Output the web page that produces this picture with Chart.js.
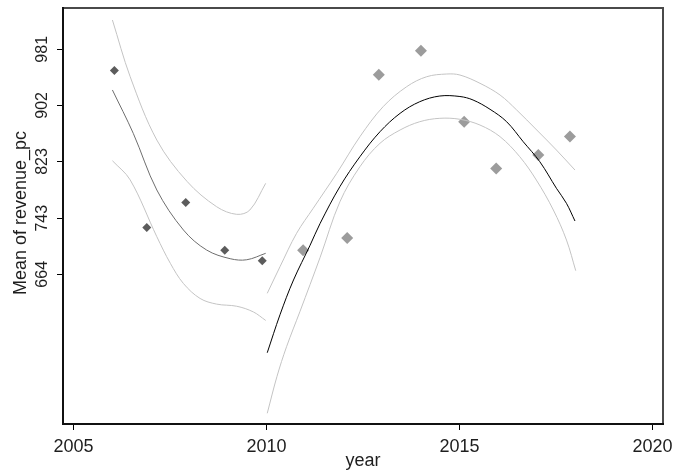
<!DOCTYPE html>
<html>
<head>
<meta charset="utf-8">
<script src="https://cdn.jsdelivr.net/npm/chart.js@4"></script>
<style>
  html, body { margin: 0; padding: 0; background: #fff; }
  canvas { display: block; }
</style>
</head>
<body>
<canvas id="grafica-revenue" width="673" height="470"></canvas>
<script>
// Puntos: media de revenue_pc por año
const yearsEarly = [2006.06, 2006.9, 2007.91, 2008.92, 2009.89];
const revenueEarly = [951, 730, 765, 698, 683];
const yearsLate = [2010.95, 2012.09, 2012.91, 2014.0, 2015.12, 2015.95, 2017.04, 2017.86];
const revenueLate = [698, 715, 945, 979, 879, 813, 832, 858];

// Ajuste cuadrático 2006-2010
const fitEarlyX = [2006.01, 2006.55, 2007.16, 2007.85, 2008.45, 2009.06, 2009.49, 2009.98];
const fitEarly = [923.7, 862.6, 782.8, 726.4, 698.2, 686, 684.5, 693.6];
const ciEarlyHiX = [2006.01, 2006.47, 2007.16, 2007.94, 2008.71, 2009.23, 2009.57, 2009.98];
const ciEarlyHi = [1022.3, 942.4, 853.2, 795, 759.2, 748.5, 754.6, 792.2];
const ciEarlyLoX = [2006.01, 2006.47, 2007.16, 2007.51, 2007.85, 2008.28, 2008.71, 2009.23, 2009.66, 2009.98];
const ciEarlyLo = [824, 797, 717, 679.5, 651, 630, 622, 619, 611, 599];

// Ajuste cuadrático 2010-2018
const fitLateX = [2010.02, 2010.35, 2010.7, 2011.13, 2011.39, 2011.9, 2012.42, 2012.94, 2013.46, 2013.97,
  2014.49, 2015.01, 2015.35, 2015.79, 2016.22, 2016.65, 2017.08, 2017.51, 2017.77, 2017.99];
const fitLate = [553.5, 607, 656, 705, 735.8, 787.4, 829.7, 864.9, 890.8, 907.2,
  915.2, 914.5, 909.6, 896.5, 879, 850.8, 822.6, 785.2, 764, 739.1];
const ciLateHiX = [2010.02, 2010.35, 2010.78, 2011.21, 2011.82, 2012.42, 2013.02, 2013.63, 2014.15,
  2014.67, 2015.01, 2015.53, 2016.05, 2016.48, 2017.0, 2017.51, 2017.99];
const ciLateHi = [637.2, 674.7, 721.8, 757, 806.3, 857.9, 900.1, 928.3, 942.4,
  946.2, 944.8, 933.1, 916.6, 895.5, 867.3, 839.1, 810.9];
const ciLateLoX = [2010.02, 2010.27, 2010.52, 2010.87, 2011.39, 2011.9, 2012.42, 2012.94, 2013.46, 2013.97,
  2014.49, 2015.01, 2015.53, 2016.05, 2016.56, 2016.99, 2017.43, 2017.77, 2018.01];
const ciLateLo = [468.2, 519.7, 562, 612, 688, 766, 815.6, 848.6, 867.3, 879,
  883.8, 882.4, 874.3, 857.9, 829.7, 796.8, 754.6, 712.3, 669.1];

// Ejes
const xTicks = [2005, 2010, 2015, 2020];
const yTicks = [664, 743, 823, 902, 981];
const xTitle = 'year';
const yTitle = 'Mean of revenue_pc';

const FONT = '"Liberation Sans", Arial, sans-serif';
const pts = (xs, ys) => xs.map((x, i) => ({ x, y: ys[i] }));

function curva(xs, ys, color) {
  return {
    data: pts(xs, ys),
    showLine: true,
    borderColor: color,
    borderWidth: 1,
    pointRadius: 0,
    tension: 0.35,
    order: 1
  };
}

// 🖼️ Marco y textos de los ejes
const marcoPlugin = {
  id: 'marco',
  afterDraw(chart) {
    const { ctx, chartArea: a, scales } = chart;
    ctx.save();
    ctx.lineWidth = 2;
    ctx.strokeStyle = '#4a4a4a';
    ctx.beginPath();
    ctx.moveTo(a.left, a.top);
    ctx.lineTo(a.right, a.top);
    ctx.lineTo(a.right, a.bottom);
    ctx.stroke();
    ctx.strokeStyle = '#111';
    ctx.beginPath();
    ctx.moveTo(a.left, a.top - 1);
    ctx.lineTo(a.left, a.bottom);
    ctx.lineTo(a.right + 1, a.bottom);
    ctx.stroke();

    ctx.fillStyle = '#1e1e1e';
    ctx.textBaseline = 'alphabetic';
    ctx.textAlign = 'center';
    ctx.font = '18px ' + FONT;
    xTicks.forEach(v => {
      ctx.fillText(String(v), scales.x.getPixelForValue(v), 451.5);
    });
    ctx.fillText(xTitle, (a.left + a.right) / 2, 466);

    ctx.font = '16px ' + FONT;
    yTicks.forEach(v => {
      ctx.save();
      ctx.translate(46.7, scales.y.getPixelForValue(v));
      ctx.rotate(-Math.PI / 2);
      ctx.fillText(String(v), 0, 0);
      ctx.restore();
    });
    ctx.font = '18px ' + FONT;
    ctx.translate(26, 213);
    ctx.rotate(-Math.PI / 2);
    ctx.fillText(yTitle, 0, 0);
    ctx.restore();
  }
};

const ejeComun = {
  type: 'linear',
  ticks: { display: false },
  grid: { display: true, drawOnChartArea: false, drawTicks: true, tickLength: 6, color: '#000', lineWidth: 1 },
  border: { display: false }
};

const ctx = document.getElementById('grafica-revenue').getContext('2d');
new Chart(ctx, {
  type: 'scatter',
  data: {
    datasets: [
      {
        data: pts(yearsEarly, revenueEarly),
        pointStyle: 'rectRot',
        pointRadius: 4.5,
        backgroundColor: '#5c5c5c',
        borderWidth: 0,
        order: 2
      },
      {
        data: pts(yearsLate, revenueLate),
        pointStyle: 'rectRot',
        pointRadius: 6,
        backgroundColor: '#9c9c9c',
        borderWidth: 0,
        order: 2
      },
      curva(ciEarlyHiX, ciEarlyHi, '#c4c4c4'),
      curva(ciEarlyLoX, ciEarlyLo, '#c4c4c4'),
      curva(fitEarlyX, fitEarly, '#6e6e6e'),
      curva(ciLateHiX, ciLateHi, '#c4c4c4'),
      curva(ciLateLoX, ciLateLo, '#c4c4c4'),
      curva(fitLateX, fitLate, '#000')
    ]
  },
  options: {
    responsive: false,
    animation: false,
    devicePixelRatio: 1,
    layout: { padding: { top: 8, right: 10, left: 0, bottom: 0 } },
    plugins: { legend: { display: false }, tooltip: { enabled: false } },
    scales: {
      x: {
        ...ejeComun,
        min: 2004.73,
        max: 2020.27,
        afterBuildTicks: s => { s.ticks = xTicks.map(v => ({ value: v })); },
        afterFit: s => { s.height = 46; }
      },
      y: {
        ...ejeComun,
        min: 453.1,
        max: 1039.2,
        afterBuildTicks: s => { s.ticks = yTicks.map(v => ({ value: v })); },
        afterFit: s => { s.width = 63; }
      }
    }
  },
  plugins: [marcoPlugin]
});
</script>
</body>
</html>
